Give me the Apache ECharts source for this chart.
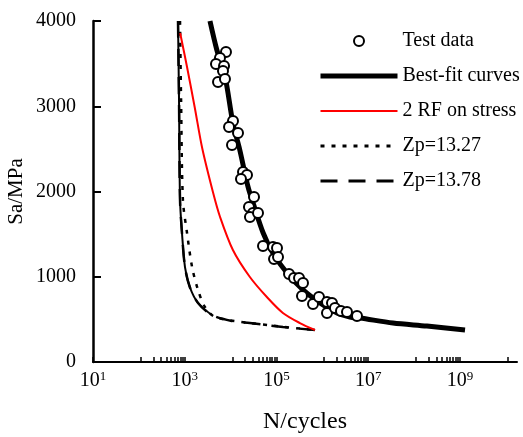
<!DOCTYPE html>
<html><head><meta charset="utf-8">
<script src="https://cdn.jsdelivr.net/npm/echarts@6/dist/echarts.min.js"></script>
<style>html,body{margin:0;padding:0;background:#fff}#c{width:523px;height:437px}</style>
</head><body><div id="c"></div>
<script>
// Test data (N cycles, stress amplitude MPa)
const testN = [7925, 5860, 4800, 7180, 6820, 5310, 7530, 11270, 9230, 14490, 10720, 18620, 22760, 16830,
  32360, 25120, 30760, 26420, 39540, 50820, 83950, 102600, 88310, 107900, 187500, 241000, 309700, 378400,
  359700, 625200, 844100, 1262000, 1622000, 1262000, 1884000, 2547000, 3443000, 5689000];
const testS = [3636, 3566, 3496, 3472, 3413, 3284, 3320, 2827, 2757, 2686, 2545, 2229, 2193, 2147,
  1935, 1818, 1748, 1701, 1748, 1361, 1349, 1337, 1208, 1232, 1032, 985, 985, 927,
  774, 680, 762, 704, 692, 575, 633, 598, 587, 540];
// Best-fit curve
const fitN = [3548, 5012, 7586, 11220, 15850, 23990, 30900, 51290, 83180, 169800, 380200, 891300, 2089000, 3981000, 6607000, 34670000, 190500000, 1288000000];
const fitS = [4000, 3660, 3343, 2803, 2487, 2053, 1865, 1513, 1279, 1044, 845, 692, 575, 528, 516, 457, 422, 375];
// 2 RF on stress
const rfN = [794, 1122, 1660, 2399, 4169, 5888, 11220, 26300, 61660, 138000, 323600, 691800];
const rfS = [3859, 3460, 2980, 2510, 1982, 1701, 1314, 997, 762, 575, 457, 375];
// Zp = 13.27
const zp1327N = [789, 832, 912, 1122, 1445, 1950, 2754, 4571, 26300, 691800];
const zp1327S = [4000, 3073, 1900, 1513, 1114, 845, 645, 528, 457, 375];
// Zp = 13.78
const zp1378N = [713, 750, 789, 871, 1012, 1288, 1950, 3890, 10720, 26300, 138000, 691800];
const zp1378S = [4000, 3073, 1900, 1513, 1114, 880, 692, 551, 481, 457, 410, 375];
// Axis ticks
const xLabelValues = [1e1, 1e3, 1e5, 1e7, 1e9];
const yLabelValues = [0, 1000, 2000, 3000, 4000];
const xMin = 10, xMax = 1.75e10;

const zip = (a, b) => a.map((v, i) => [v, b[i]]);
const xTickValues = [];
xLabelValues.forEach(a => {
  const b = a * 100;
  xTickValues.push(a);
  for (let k = 1; k <= 9; k++) { const v = a + k * (b - a) / 10; if (v < xMax) xTickValues.push(v); }
});

const font = 'Liberation Serif';
const chart = echarts.init(document.getElementById('c'));
const legItem = (name, width) => ({ name: name, itemStyle: { opacity: 0 }, lineStyle: { width: width } });
chart.setOption({
  animation: false,
  backgroundColor: '#fff',
  textStyle: { fontFamily: font, color: '#000' },
  grid: { left: 93, right: 6, top: 21, bottom: 75, containLabel: false, outerBoundsMode: 'none' },
  legend: {
    orient: 'vertical', left: 318, top: 31, padding: 0,
    itemWidth: 77, itemHeight: 10, itemGap: 15,
    textStyle: { fontFamily: font, fontSize: 20, color: '#000' },
    data: [
      { name: 'Test data' },
      legItem('Best-fit curves', 5),
      legItem('2 RF on stress', 2),
      legItem('Zp=13.27', 3),
      legItem('Zp=13.78', 3)
    ]
  },
  xAxis: {
    type: 'log', logBase: 10, min: xMin, max: xMax,
    name: 'N/cycles', nameLocation: 'middle', nameGap: 48,
    nameTextStyle: { fontFamily: font, fontSize: 24, color: '#000' },
    axisLine: { lineStyle: { color: '#000', width: 2 } },
    axisTick: { inside: true, length: 5, customValues: xTickValues, lineStyle: { color: '#000', width: 1.5 } },
    axisLabel: {
      customValues: xLabelValues, margin: 8, color: '#000',
      formatter: v => '10{sup|' + Math.round(Math.log10(v)) + '}',
      rich: { sup: { fontFamily: font, fontSize: 13, color: '#000', padding: [0, 0, 9, 0] } },
      fontFamily: font, fontSize: 20
    },
    splitLine: { show: false }
  },
  yAxis: {
    type: 'value', min: yLabelValues[0], max: yLabelValues[yLabelValues.length - 1], interval: 1000,
    name: 'Sa/MPa', nameLocation: 'middle', nameGap: 66, nameRotate: 90, nameMoveOverlap: false,
    nameTextStyle: { fontFamily: font, fontSize: 21, color: '#000' },
    axisLine: { show: true, lineStyle: { color: '#000', width: 2.5 } },
    axisTick: { show: true, inside: true, length: 8, customValues: yLabelValues, lineStyle: { color: '#000', width: 2 } },
    axisLabel: { fontFamily: font, fontSize: 20, color: '#000', margin: 17, formatter: v => String(v) },
    splitLine: { show: false }
  },
  series: [
    { name: 'Zp=13.78', type: 'line', data: zip(zp1378N, zp1378S), symbol: 'none', smooth: 0.3,
      lineStyle: { color: '#000', width: 2.5, type: [17, 11] }, z: 2 },
    { name: 'Zp=13.78', type: 'line', data: zip(zp1378N, zp1378S).slice(0, 8), symbol: 'none', smooth: 0.3,
      lineStyle: { color: '#000', width: 2 }, z: 2 },
    { name: 'Zp=13.27', type: 'line', data: zip(zp1327N, zp1327S), symbol: 'none', smooth: 0.3,
      lineStyle: { color: '#000', width: 2.5, type: [4, 7] }, z: 2 },
    { name: '2 RF on stress', type: 'line', data: zip(rfN, rfS), symbol: 'none', smooth: 0.3,
      lineStyle: { color: '#ff0000', width: 2 }, z: 3 },
    { name: 'Best-fit curves', type: 'line', data: zip(fitN, fitS), symbol: 'none', smooth: 0.3,
      lineStyle: { color: '#000', width: 5 }, z: 4 },
    { name: 'Test data', type: 'scatter', data: zip(testN, testS), symbol: 'circle', symbolSize: 10,
      itemStyle: { color: '#fff', borderColor: '#000', borderWidth: 2, opacity: 1 }, z: 5 }
  ]
});
</script></body></html>
